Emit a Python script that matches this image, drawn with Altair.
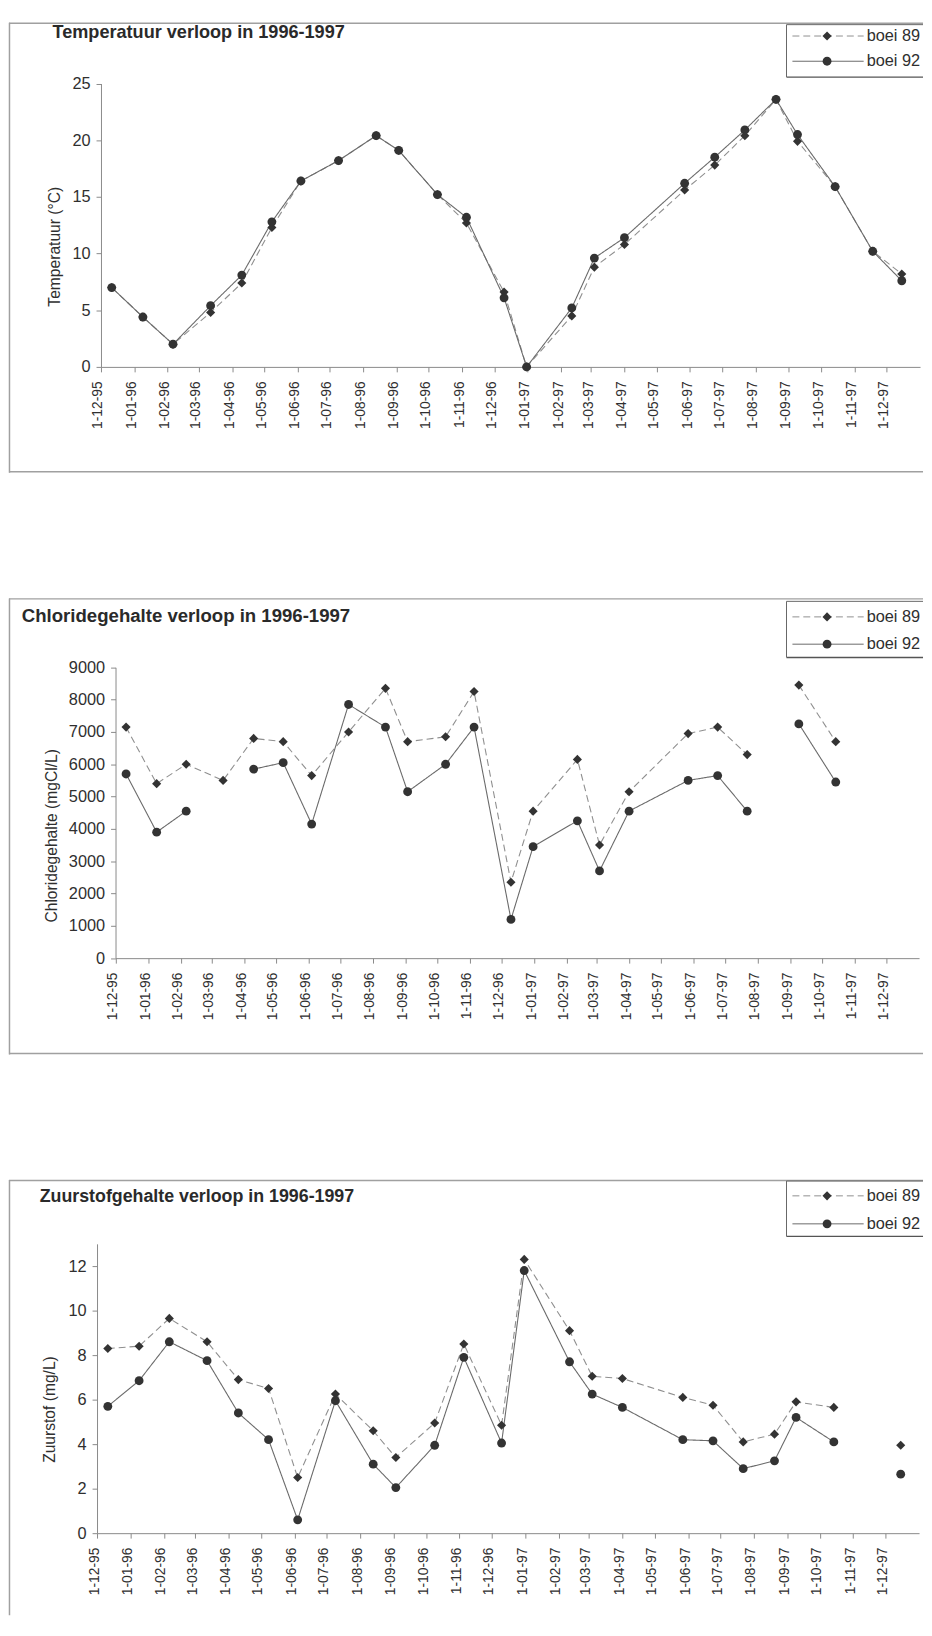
import altair as alt
import pandas as pd

# ---------------- data ----------------
SERIES = ["boei 89", "boei 92"]

DATES = ["1995-12-11", "1996-01-09", "1996-02-06", "1996-03-12", "1996-04-10",
         "1996-05-08", "1996-06-04", "1996-07-09", "1996-08-13", "1996-09-03",
         "1996-10-09", "1996-11-05", "1996-12-10", "1996-12-31", "1997-02-11",
         "1997-03-04", "1997-04-01", "1997-05-27", "1997-06-24", "1997-07-22",
         "1997-08-20", "1997-09-09", "1997-10-14", "1997-11-18", "1997-12-15"]

TEMP_89 = [7.0, 4.4, 2.0, 4.8, 7.4, 12.3, 16.4, 18.2, 20.4, 19.1, 15.2, 12.7, 6.6,
           0.0, 4.5, 8.8, 10.8, 15.6, 17.8, 20.4, 23.6, 19.9, 15.9, 10.2, 8.2]
TEMP_92 = [7.0, 4.4, 2.0, 5.4, 8.1, 12.8, 16.4, 18.2, 20.4, 19.1, 15.2, 13.2, 6.1,
           0.0, 5.2, 9.6, 11.4, 16.2, 18.5, 20.9, 23.6, 20.5, 15.9, 10.2, 7.6]

CL_89 = [7150, 5400, 6000, 5500, 6800, 6700, 5650, 7000, 8350, 6700, 6850, 8250, 2350,
         4550, 6150, 3500, 5150, 6950, 7150, 6300, None, 8450, 6700, None, None]
CL_92 = [5700, 3900, 4550, None, 5850, 6050, 4150, 7850, 7150, 5150, 6000, 7150, 1200,
         3450, 4250, 2700, 4550, 5500, 5650, 4550, None, 7250, 5450, None, None]

O2_89 = [8.3, 8.4, 9.65, 8.6, 6.9, 6.5, 2.5, 6.25, 4.6, 3.4, 4.95, 8.5, 4.85,
         12.3, 9.1, 7.05, 6.95, 6.1, 5.75, 4.1, 4.45, 5.9, 5.65, None, 3.95]
O2_92 = [5.7, 6.85, 8.6, 7.75, 5.4, 4.2, 0.6, 5.95, 3.1, 2.05, 3.95, 7.9, 4.05,
         11.8, 7.7, 6.25, 5.65, 4.2, 4.15, 2.9, 3.25, 5.2, 4.1, None, 2.65]

TICK_DATES = ["1995-12-01", "1996-01-01", "1996-02-01", "1996-03-01", "1996-04-01",
              "1996-05-01", "1996-06-01", "1996-07-01", "1996-08-01", "1996-09-01",
              "1996-10-01", "1996-11-01", "1996-12-01", "1997-01-01", "1997-02-01",
              "1997-03-01", "1997-04-01", "1997-05-01", "1997-06-01", "1997-07-01",
              "1997-08-01", "1997-09-01", "1997-10-01", "1997-11-01", "1997-12-01"]
X_START = "1995-12-01"
X_END = "1998-01-01"

TITLES = ["Temperatuur verloop in 1996-1997",
          "Chloridegehalte verloop in 1996-1997",
          "Zuurstofgehalte verloop in 1996-1997"]
Y_TITLES = ["Temperatuur (°C)", "Chloridegehalte (mgCl/L)", "Zuurstof (mg/L)"]
Y_DOMAINS = [[0, 25], [0, 9000], [0, 13]]
Y_TICKS = [[0, 5, 10, 15, 20, 25],
           [0, 1000, 2000, 3000, 4000, 5000, 6000, 7000, 8000, 9000],
           [0, 2, 4, 6, 8, 10, 12]]

# ---------------- style ----------------
FONT = "Liberation Sans, Arial, sans-serif"
TEXT = "#2f2f2f"
AXIS = "#8a8a8a"
MARK = "#333333"
W = 924


def dt(s):
    y, m, d = (int(p) for p in s.split("-"))
    return alt.DateTime(year=y, month=m, date=d, utc=True)


def make_df(v89, v92):
    rows = []
    for i, d in enumerate(DATES):
        rows.append({"date": d, "series": SERIES[0], "value": v89[i]})
        rows.append({"date": d, "series": SERIES[1], "value": v92[i]})
    return pd.DataFrame(rows)


ONE = pd.DataFrame({"k": [0]})


def hrule(x, x2, y, color, width, dash=None):
    kw = dict(color=color, strokeWidth=width)
    if dash:
        kw["strokeDash"] = dash
    return alt.Chart(ONE).mark_rule(**kw).encode(
        x=alt.value(x), x2=alt.value(x2), y=alt.value(y))


def vrule(x, y, y2, color, width):
    return alt.Chart(ONE).mark_rule(color=color, strokeWidth=width).encode(
        x=alt.value(x), y=alt.value(y), y2=alt.value(y2))


def panel(i, v89, v92, g):
    H = g["H"]
    df = make_df(v89, v92)
    xaxis = alt.Axis(values=[dt(s) for s in TICK_DATES], format="%-d-%m-%y",
                     labelAngle=270, labelFlush=False, labelOverlap=False,
                     offset=g["y0"] - H, tickSize=5, labelPadding=9, labelOffset=-3,
                     labelFontSize=14, labelFont=FONT, labelColor=TEXT,
                     domainColor=AXIS, tickColor=AXIS, grid=False, title=None)
    yaxis = alt.Axis(values=Y_TICKS[i], format="d", offset=-g["x0"], tickSize=5,
                     labelPadding=6, labelFlush=False, labelOverlap=False,
                     labelFontSize=16.5, labelFont=FONT, labelColor=TEXT,
                     domainColor=AXIS, tickColor=AXIS, grid=False,
                     title=Y_TITLES[i], titleFont=FONT, titleFontSize=15.8,
                     titleFontWeight="normal", titleColor=TEXT, titleAngle=270,
                     titleAlign="center", titleBaseline="middle",
                     titleX=g["tx"], titleY=g["ty"])
    base = alt.Chart(df).encode(
        x=alt.X("date:T", axis=xaxis,
                scale=alt.Scale(type="utc", domain=[dt(X_START), dt(X_END)],
                                range=[g["x0"], g["x1"]])),
        y=alt.Y("value:Q", axis=yaxis,
                scale=alt.Scale(domain=Y_DOMAINS[i], range=[g["y0"], g["y1"]],
                                nice=False, zero=False)),
    )
    lines = base.mark_line(strokeWidth=1.1, invalid="break-paths-show-domains").encode(
        strokeDash=alt.StrokeDash("series:N", legend=None,
                                  scale=alt.Scale(domain=SERIES, range=[[7, 4], [1, 0]])),
        color=alt.Color("series:N", legend=None,
                        scale=alt.Scale(domain=SERIES, range=["#8f8f8f", "#6a6a6a"])),
        detail="series:N",
    )
    points = base.mark_point(filled=True, opacity=1, color=MARK).encode(
        shape=alt.Shape("series:N", legend=None,
                        scale=alt.Scale(domain=SERIES, range=["diamond", "circle"])),
        size=alt.Size("series:N", legend=None,
                      scale=alt.Scale(domain=SERIES, range=[85, 80])),
    )
    title = alt.Chart(ONE).mark_text(align="left", baseline="middle", font=FONT,
                                     fontSize=g["fs"], fontWeight="bold",
                                     color="#2a2a2a").encode(
        x=alt.value(g["tlx"]), y=alt.value(g["tly"]), text=alt.value(TITLES[i]))

    layers = []
    # frame of the chart
    layers.append(vrule(0.5, 0, g["fb"], "#a0a0a0", 1.5))
    layers.append(hrule(0, W, 0.5, "#a0a0a0", 1.5))
    if g["bottom"]:
        layers.append(hrule(0, W, H - 1, "#a0a0a0", 1.5))
    layers += [lines, points, title]

    # legend
    lt, lb, e1, e2 = g["leg"]
    lx = 786
    layers.append(hrule(lx, W, lt, "#666666", 1))
    layers.append(hrule(lx, W, lb, "#555555", 1.4))
    layers.append(vrule(lx, lt, lb, "#666666", 1))
    layers.append(hrule(lx + 6, lx + 78, e1, "#8f8f8f", 1, [7, 4]))
    layers.append(hrule(lx + 6, lx + 78, e2, "#6a6a6a", 1))
    layers.append(alt.Chart(ONE).mark_point(shape="diamond", filled=True, size=85,
                                            opacity=1, color=MARK).encode(
        x=alt.value(lx + 41), y=alt.value(e1)))
    layers.append(alt.Chart(ONE).mark_point(shape="circle", filled=True, size=80,
                                            opacity=1, color=MARK).encode(
        x=alt.value(lx + 41), y=alt.value(e2)))
    for lab, yy in zip(SERIES, [e1, e2]):
        layers.append(alt.Chart(ONE).mark_text(align="left", baseline="middle",
                                               font=FONT, fontSize=16.5,
                                               color=TEXT).encode(
            x=alt.value(lx + 81), y=alt.value(yy), text=alt.value(lab)))

    return alt.layer(*layers).properties(width=W, height=H)


G1 = dict(H=455, x0=93, x1=921, y0=348, y1=61.5, tx=-47, ty=226, fs=18.3,
          tlx=44, tly=11, leg=(2, 55, 13.5, 39), fb=455, bottom=True)
G2 = dict(H=461, x0=107.7, x1=920, y0=363.7, y1=69.7, tx=-65, ty=239.5, fs=18.8,
          tlx=13, tly=17.7, leg=(3, 59.7, 18.7, 46.3), fb=461, bottom=True)
G3 = dict(H=440, x0=89, x1=920, y0=357, y1=64.5, tx=-48, ty=231.5, fs=18,
          tlx=31, tly=17.7, leg=(1, 57, 16, 44.3), fb=440, bottom=False)

p1 = panel(0, TEMP_89, TEMP_92, G1)
p2 = panel(1, CL_89, CL_92, G2)
p3 = panel(2, O2_89, O2_92, G3)

chart = alt.vconcat(p1, p2, p3, spacing=125).properties(
    padding={"left": 0, "top": 5, "right": 0, "bottom": 0},
    background="white",
).configure_view(stroke=None)

chart.save("out.html", embed_options={"renderer": "svg", "actions": False})
